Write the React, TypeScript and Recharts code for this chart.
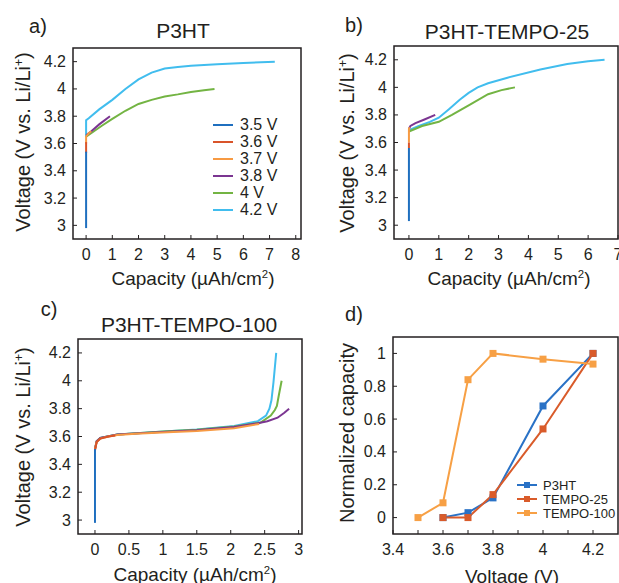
import React from 'react';
import { LineChart, Line, XAxis, YAxis } from 'recharts';

type Pt = { x: number; y: number };

const ink = '#231f20';
const font = '"Liberation Sans", Arial, Helvetica, sans-serif';

// cut-off voltages for panels a-c
const cutoffNames = ['3.5 V', '3.6 V', '3.7 V', '3.8 V', '4 V', '4.2 V'];
const cutoffColors = ['#1f6fbf', '#d9542a', '#f79a43', '#7b3591', '#73b443', '#41bdee'];

const voltageTicks = [3, 3.2, 3.4, 3.6, 3.8, 4, 4.2];

// a) P3HT
const p3htTicks = [0, 1, 2, 3, 4, 5, 6, 7, 8];
const p3ht35: Pt[] = [{ x: 0, y: 2.98 }, { x: 0, y: 3.54 }];
const p3ht36: Pt[] = [{ x: 0, y: 3.53 }, { x: 0, y: 3.61 }];
const p3ht37: Pt[] = [{ x: 0, y: 3.6 }, { x: 0, y: 3.65 }, { x: 0.1, y: 3.675 }, { x: 0.2, y: 3.69 }];
const p3ht38: Pt[] = [{ x: 0, y: 3.66 }, { x: 0.2, y: 3.69 }, { x: 0.5, y: 3.74 }, { x: 0.91, y: 3.8 }];
const p3ht40: Pt[] = [
  { x: 0, y: 3.65 }, { x: 0.3, y: 3.69 }, { x: 0.6, y: 3.73 }, { x: 1, y: 3.78 }, { x: 1.5, y: 3.84 },
  { x: 2, y: 3.89 }, { x: 2.5, y: 3.92 }, { x: 3, y: 3.945 }, { x: 3.5, y: 3.96 }, { x: 4, y: 3.978 },
  { x: 4.5, y: 3.99 }, { x: 4.9, y: 4.0 },
];
const p3ht42: Pt[] = [
  { x: 0, y: 3.65 }, { x: 0, y: 3.77 }, { x: 0.1, y: 3.785 }, { x: 0.5, y: 3.85 }, { x: 1, y: 3.92 },
  { x: 1.5, y: 4.0 }, { x: 2, y: 4.07 }, { x: 2.5, y: 4.12 }, { x: 3, y: 4.15 }, { x: 3.5, y: 4.16 },
  { x: 4, y: 4.17 }, { x: 5, y: 4.18 }, { x: 6, y: 4.19 }, { x: 7.2, y: 4.2 },
];

// b) P3HT-TEMPO-25
const t25Ticks = [0, 1, 2, 3, 4, 5, 6, 7];
const t25_35: Pt[] = [{ x: 0, y: 3.03 }, { x: 0, y: 3.56 }];
const t25_36: Pt[] = [{ x: 0, y: 3.56 }, { x: 0, y: 3.6 }];
const t25_37: Pt[] = [{ x: 0, y: 3.6 }, { x: 0, y: 3.7 }, { x: 0.03, y: 3.71 }];
const t25_38: Pt[] = [{ x: 0, y: 3.7 }, { x: 0.05, y: 3.72 }, { x: 0.22, y: 3.74 }, { x: 0.5, y: 3.765 }, { x: 0.88, y: 3.8 }];
const t25_40: Pt[] = [
  { x: 0, y: 3.68 }, { x: 0.44, y: 3.72 }, { x: 1, y: 3.75 }, { x: 1.44, y: 3.8 }, { x: 2, y: 3.87 },
  { x: 2.65, y: 3.95 }, { x: 3.1, y: 3.98 }, { x: 3.55, y: 4.0 },
];
const t25_42: Pt[] = [
  { x: 0, y: 3.69 }, { x: 0.33, y: 3.72 }, { x: 0.7, y: 3.75 }, { x: 1, y: 3.78 }, { x: 1.33, y: 3.84 },
  { x: 1.7, y: 3.91 }, { x: 2, y: 3.96 }, { x: 2.3, y: 4.0 }, { x: 2.65, y: 4.03 }, { x: 3.3, y: 4.07 },
  { x: 4.4, y: 4.13 }, { x: 5.3, y: 4.17 }, { x: 6, y: 4.19 }, { x: 6.55, y: 4.2 },
];

// c) P3HT-TEMPO-100
const t100Ticks = [0, 0.5, 1, 1.5, 2, 2.5, 3];
const t100_35: Pt[] = [{ x: 0, y: 2.98 }, { x: 0, y: 3.51 }];
const t100_36: Pt[] = [{ x: 0, y: 3.5 }, { x: 0.025, y: 3.56 }, { x: 0.08, y: 3.585 }, { x: 0.2, y: 3.6 }, { x: 0.3, y: 3.607 }];
const t100_37: Pt[] = [
  { x: 0, y: 3.51 }, { x: 0.025, y: 3.56 }, { x: 0.08, y: 3.585 }, { x: 0.2, y: 3.6 }, { x: 0.33, y: 3.61 },
  { x: 0.6, y: 3.62 }, { x: 1.07, y: 3.63 }, { x: 1.5, y: 3.64 }, { x: 2.05, y: 3.66 }, { x: 2.42, y: 3.69 },
];
const t100_38: Pt[] = [
  { x: 0, y: 3.51 }, { x: 0.025, y: 3.565 }, { x: 0.08, y: 3.59 }, { x: 0.33, y: 3.615 }, { x: 1.07, y: 3.635 },
  { x: 1.5, y: 3.645 }, { x: 2.05, y: 3.668 }, { x: 2.4, y: 3.695 }, { x: 2.54, y: 3.71 }, { x: 2.69, y: 3.735 },
  { x: 2.79, y: 3.77 }, { x: 2.86, y: 3.8 },
];
const t100_40: Pt[] = [
  { x: 0, y: 3.51 }, { x: 0.025, y: 3.565 }, { x: 0.08, y: 3.59 }, { x: 0.33, y: 3.615 }, { x: 1.07, y: 3.637 },
  { x: 1.5, y: 3.648 }, { x: 2.05, y: 3.672 }, { x: 2.44, y: 3.7 }, { x: 2.59, y: 3.75 }, { x: 2.65, y: 3.79 },
  { x: 2.68, y: 3.82 }, { x: 2.71, y: 3.9 }, { x: 2.75, y: 4.0 },
];
const t100_42: Pt[] = [
  { x: 0, y: 3.51 }, { x: 0.025, y: 3.565 }, { x: 0.08, y: 3.59 }, { x: 0.33, y: 3.615 }, { x: 1.07, y: 3.638 },
  { x: 1.5, y: 3.65 }, { x: 2.05, y: 3.675 }, { x: 2.4, y: 3.71 }, { x: 2.52, y: 3.75 }, { x: 2.57, y: 3.8 },
  { x: 2.6, y: 3.86 }, { x: 2.63, y: 3.99 }, { x: 2.67, y: 4.2 },
];

// d) normalized capacity vs cut-off voltage
const dVoltTicks = [3.4, 3.5, 3.6, 3.7, 3.8, 3.9, 4, 4.1, 4.2];
const dVoltLabels = [3.4, 3.6, 3.8, 4, 4.2];
const capTicks = [0, 0.2, 0.4, 0.6, 0.8, 1];
const normNames = ['P3HT', 'TEMPO-25', 'TEMPO-100'];
const normColors = ['#2a72c6', '#d95b2a', '#f7a045'];
const normP3ht: Pt[] = [{ x: 3.6, y: 0 }, { x: 3.7, y: 0.03 }, { x: 3.8, y: 0.12 }, { x: 4, y: 0.68 }, { x: 4.2, y: 1 }];
const normT25: Pt[] = [{ x: 3.6, y: 0 }, { x: 3.7, y: 0 }, { x: 3.8, y: 0.14 }, { x: 4, y: 0.54 }, { x: 4.2, y: 1 }];
const normT100: Pt[] = [
  { x: 3.5, y: 0 }, { x: 3.6, y: 0.09 }, { x: 3.7, y: 0.84 }, { x: 3.8, y: 1 }, { x: 4, y: 0.965 }, { x: 4.2, y: 0.935 },
];

const X_AXIS_H = 30;
const Y_AXIS_W = 40;

// inward tick marks (MATLAB style); x/y arrive exactly on the axis line since tickSize/tickMargin are 0
function BottomTick({ x, y, payload, fmt }: any) {
  const label = fmt ? fmt(payload.value) : String(payload.value);
  return (
    <g>
      <line x1={x} x2={x} y1={y} y2={y - 4} stroke={ink} strokeWidth={1} />
      <text x={x} y={y + 21} textAnchor="middle" fill={ink} fontSize={16} fontFamily={font}>{label}</text>
    </g>
  );
}

function LeftTick({ x, y, payload }: any) {
  return (
    <g>
      <line x1={x} x2={x + 4} y1={y} y2={y} stroke={ink} strokeWidth={1} />
      <text x={x - 7} y={y + 5.5} textAnchor="end" fill={ink} fontSize={16} fontFamily={font}>{String(payload.value)}</text>
    </g>
  );
}

function Txt({ x, y, size, rotate, children }: any) {
  return (
    <div
      style={{
        position: 'absolute', left: x, top: y, fontSize: size, lineHeight: 1, whiteSpace: 'nowrap', color: ink,
        transform: `translate(-50%, -50%)${rotate ? ' rotate(-90deg)' : ''}`,
      }}
    >
      {children}
    </div>
  );
}

const sup = { fontSize: '0.6em', position: 'relative' as const, top: '-0.6em' };

function CutoffLegend({ left, top }: any) {
  return (
    <div style={{ position: 'absolute', left, top, fontSize: 16, color: ink }}>
      {cutoffNames.map((n, i) => (
        <div key={n} style={{ display: 'flex', alignItems: 'center', height: 17 }}>
          <svg width={27} height={4}><line x1={0} x2={20} y1={2} y2={2} stroke={cutoffColors[i]} strokeWidth={2} /></svg>
          <span>{n}</span>
        </div>
      ))}
    </div>
  );
}

function NormLegend({ left, top }: any) {
  return (
    <div style={{ position: 'absolute', left, top, fontSize: 13, color: ink }}>
      {normNames.map((n, i) => (
        <div key={n} style={{ display: 'flex', alignItems: 'center', height: 14 }}>
          <svg width={26} height={8}>
            <line x1={0} x2={20} y1={4} y2={4} stroke={normColors[i]} strokeWidth={2} />
            <rect x={7} y={1} width={6} height={6} fill={normColors[i]} />
          </svg>
          <span>{n}</span>
        </div>
      ))}
    </div>
  );
}

function Panel({ left, top, width, height, margin, xDomain, yDomain, xTicks, yTicks, xFormat, children }: any) {
  const fx = margin.left + Y_AXIS_W;
  const fy = margin.top;
  const fw = width - margin.right - fx;
  const fh = height - margin.bottom - X_AXIS_H - fy;
  return (
    <div style={{ position: 'absolute', left, top, width, height }}>
      <LineChart width={width} height={height} margin={margin}>
        <XAxis
          type="number"
          dataKey="x"
          domain={xDomain}
          ticks={xTicks}
          interval={0}
          allowDataOverflow
          axisLine={false}
          tickLine={false}
          tickSize={0}
          tickMargin={0}
          height={X_AXIS_H}
          tick={<BottomTick fmt={xFormat} />}
        />
        <YAxis
          type="number"
          domain={yDomain}
          ticks={yTicks}
          interval={0}
          allowDataOverflow
          axisLine={false}
          tickLine={false}
          tickSize={0}
          tickMargin={0}
          width={Y_AXIS_W}
          tick={<LeftTick />}
        />
        {children}
      </LineChart>
      {/* box frame around the plot area */}
      <svg width={width} height={height} style={{ position: 'absolute', left: 0, top: 0, pointerEvents: 'none' }}>
        <rect x={fx} y={fy} width={fw} height={fh} fill="none" stroke={ink} strokeWidth={1.5} />
      </svg>
    </div>
  );
}

function cutoffLines(series: Pt[][]) {
  // drawn from the highest cut-off down so the low-voltage curves sit on top
  return [5, 4, 3, 2, 1, 0].map((i) => (
    <Line
      key={cutoffNames[i]}
      name={cutoffNames[i]}
      data={series[i]}
      dataKey="y"
      type="linear"
      stroke={cutoffColors[i]}
      strokeWidth={2}
      dot={false}
      isAnimationActive={false}
    />
  ));
}

export default function App() {
  const voltTitle = (
    <span>Voltage (V vs. Li/Li<span style={sup}>+</span>)</span>
  );
  const capTitle = (
    <span>Capacity (µAh/cm<span style={sup}>2</span>)</span>
  );
  const normSeries = [normP3ht, normT25, normT100];
  return (
    <div
      style={{
        position: 'absolute', left: 0, top: 0, width: 619, height: 583, overflow: 'hidden',
        background: '#fff', fontFamily: font,
      }}
    >
      <Panel
        left={0} top={0} width={310} height={290}
        margin={{ top: 48, right: 9, bottom: 21, left: 33 }}
        xDomain={[-0.5, 8.2]} yDomain={[2.9, 4.3]} xTicks={p3htTicks} yTicks={voltageTicks}
      >
        {cutoffLines([p3ht35, p3ht36, p3ht37, p3ht38, p3ht40, p3ht42])}
      </Panel>
      <Panel
        left={310} top={0} width={320} height={290}
        margin={{ top: 46, right: 12, bottom: 21, left: 44 }}
        xDomain={[-0.5, 7]} yDomain={[2.9, 4.3]} xTicks={t25Ticks} yTicks={voltageTicks}
      >
        {cutoffLines([t25_35, t25_36, t25_37, t25_38, t25_40, t25_42])}
      </Panel>
      <Panel
        left={0} top={290} width={310} height={293}
        margin={{ top: 49, right: 8, bottom: 19, left: 38 }}
        xDomain={[-0.25, 3.05]} yDomain={[2.9, 4.3]} xTicks={t100Ticks} yTicks={voltageTicks}
      >
        {cutoffLines([t100_35, t100_36, t100_37, t100_38, t100_40, t100_42])}
      </Panel>
      <Panel
        left={310} top={290} width={320} height={293}
        margin={{ top: 47, right: 12, bottom: 19, left: 43 }}
        xDomain={[3.4, 4.3]} yDomain={[-0.1, 1.1]} xTicks={dVoltTicks} yTicks={capTicks}
        xFormat={(v: number) => (dVoltLabels.includes(v) ? String(v) : '')}
      >
        {normSeries.map((d, i) => (
          <Line
            key={normNames[i]}
            name={normNames[i]}
            data={d}
            dataKey="y"
            type="linear"
            stroke={normColors[i]}
            strokeWidth={2}
            isAnimationActive={false}
            dot={(p: any) => (
              <rect key={`${i}-${p.index}`} x={p.cx - 3.5} y={p.cy - 3.5} width={7} height={7} fill={normColors[i]} />
            )}
          />
        ))}
      </Panel>

      <CutoffLegend left={213} top={116} />
      <NormLegend left={517} top={478} />

      <Txt x={38} y={26} size={20}>a)</Txt>
      <Txt x={354} y={25} size={20}>b)</Txt>
      <Txt x={49} y={309} size={20}>c)</Txt>
      <Txt x={354} y={314} size={20}>d)</Txt>

      <Txt x={183} y={30} size={21}>P3HT</Txt>
      <Txt x={507} y={31} size={21}>P3HT-TEMPO-25</Txt>
      <Txt x={189} y={324} size={21}>P3HT-TEMPO-100</Txt>

      <Txt x={23} y={142} size={20} rotate>{voltTitle}</Txt>
      <Txt x={347} y={143} size={20} rotate>{voltTitle}</Txt>
      <Txt x={23} y={437} size={20} rotate>{voltTitle}</Txt>
      <Txt x={347} y={433} size={20} rotate>Normalized capacity</Txt>

      <Txt x={193} y={278} size={19}>{capTitle}</Txt>
      <Txt x={509} y={278} size={19}>{capTitle}</Txt>
      <Txt x={195} y={574} size={19}>{capTitle}</Txt>
      <Txt x={512} y={576} size={19}>Voltage (V)</Txt>
    </div>
  );
}
